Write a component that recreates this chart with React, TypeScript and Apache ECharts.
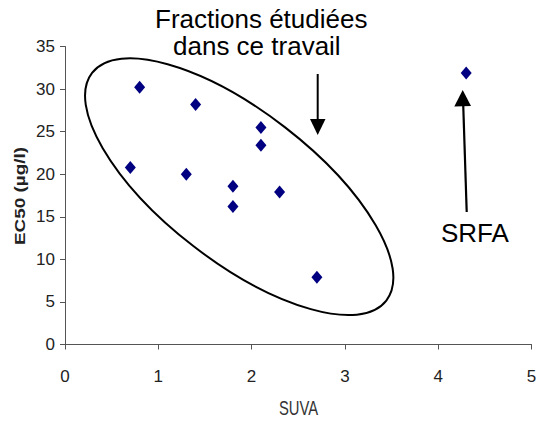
import React, { useEffect, useRef } from "react";
import * as echarts from "echarts";

// Data
const suva = [0.8, 1.4, 2.1, 2.1, 0.7, 1.3, 1.8, 1.8, 2.3, 2.7];
const ec50 = [30.2, 28.2, 25.5, 23.4, 20.8, 20.0, 18.6, 16.2, 17.9, 7.9];
const srfaSuva = [4.3];
const srfaEc50 = [31.9];

const xTicks = { min: 0, max: 5, interval: 1 };
const yTicks = { min: 0, max: 35, interval: 5 };

const xName = "SUVA";
const yName = "EC50 (µg/l)";
const noteLine1 = "Fractions étudiées";
const noteLine2 = "dans ce travail";
const noteSrfa = "SRFA";

const FONT = "'Liberation Sans', Arial, Helvetica, sans-serif";

export default function App() {
  const ref = useRef<HTMLDivElement>(null);

  useEffect(() => {
    if (!ref.current) return;
    const chart = echarts.init(ref.current, undefined, { renderer: "svg" });

    const mainData = suva.map((x, i) => [x, ec50[i]]);
    const srfaData = srfaSuva.map((x, i) => [x, srfaEc50[i]]);

    const axisCommon = {
      type: "value" as const,
      splitLine: { show: false },
      axisLine: { show: true, lineStyle: { color: "#555", width: 1 } },
      axisTick: { show: true, inside: false, length: 5, lineStyle: { color: "#555", width: 1 } },
    };

    chart.setOption({
      animation: false,
      grid: { left: 65, right: 4.5, top: 46.5, bottom: 76.5, outerBoundsMode: "none" },
      xAxis: {
        ...axisCommon,
        min: xTicks.min,
        max: xTicks.max,
        interval: xTicks.interval,
        axisLabel: { fontSize: 17, color: "#222", margin: 23, fontFamily: FONT },
      },
      yAxis: {
        ...axisCommon,
        min: yTicks.min,
        max: yTicks.max,
        interval: yTicks.interval,
        axisLabel: { fontSize: 17, color: "#222", margin: 10, fontFamily: FONT },
      },
      series: [
        {
          type: "scatter",
          name: "Fractions",
          data: mainData,
          symbol: "diamond",
          symbolSize: [11, 13],
          itemStyle: { color: "#000080", opacity: 1 },
        },
        {
          type: "scatter",
          name: "SRFA",
          data: srfaData,
          symbol: "diamond",
          symbolSize: [11, 13],
          itemStyle: { color: "#000080", opacity: 1 },
        },
      ],
      graphic: [
        {
          type: "ellipse",
          x: 239.2,
          y: 186.7,
          rotation: -0.658,
          shape: { cx: 0, cy: 0, rx: 186, ry: 75 },
          style: { fill: "none", stroke: "#000", lineWidth: 2 },
          z: 10,
        },
        {
          type: "text",
          x: 155,
          y: 19,
          style: { text: noteLine1, fontSize: 26, fontFamily: FONT, fill: "#000", align: "left", verticalAlign: "middle" },
        },
        {
          type: "text",
          x: 173,
          y: 46,
          style: { text: noteLine2, fontSize: 26, fontFamily: FONT, fill: "#000", align: "left", verticalAlign: "middle" },
        },
        {
          type: "line",
          shape: { x1: 317.7, y1: 74, x2: 317.7, y2: 121 },
          style: { stroke: "#000", lineWidth: 2 },
        },
        {
          type: "polygon",
          shape: { points: [[310, 119], [325.5, 119], [317.7, 135]] },
          style: { fill: "#000" },
        },
        {
          type: "line",
          shape: { x1: 466.7, y1: 212, x2: 463.2, y2: 104 },
          style: { stroke: "#000", lineWidth: 2.2 },
        },
        {
          type: "polygon",
          shape: { points: [[454.3, 106.5], [471, 106], [462.7, 90]] },
          style: { fill: "#000" },
        },
        {
          type: "text",
          x: 441,
          y: 233,
          style: { text: noteSrfa, fontSize: 26, fontFamily: FONT, fill: "#000", align: "left", verticalAlign: "middle" },
        },
        {
          type: "text",
          x: 298.5,
          y: 408.5,
          scaleX: 0.74,
          style: { text: xName, fontSize: 20, fontFamily: FONT, fill: "#333", align: "center", verticalAlign: "middle" },
        },
        {
          type: "text",
          x: 20,
          y: 196,
          rotation: Math.PI / 2,
          scaleX: 1.35,
          style: { text: yName, fontSize: 14, fontWeight: "bold", fontFamily: FONT, fill: "#222", align: "center", verticalAlign: "middle" },
        },
      ],
    });

    return () => chart.dispose();
  }, []);

  return (
    <div
      ref={ref}
      style={{ position: "fixed", left: 0, top: 0, width: 536, height: 421, background: "#fff" }}
    />
  );
}
